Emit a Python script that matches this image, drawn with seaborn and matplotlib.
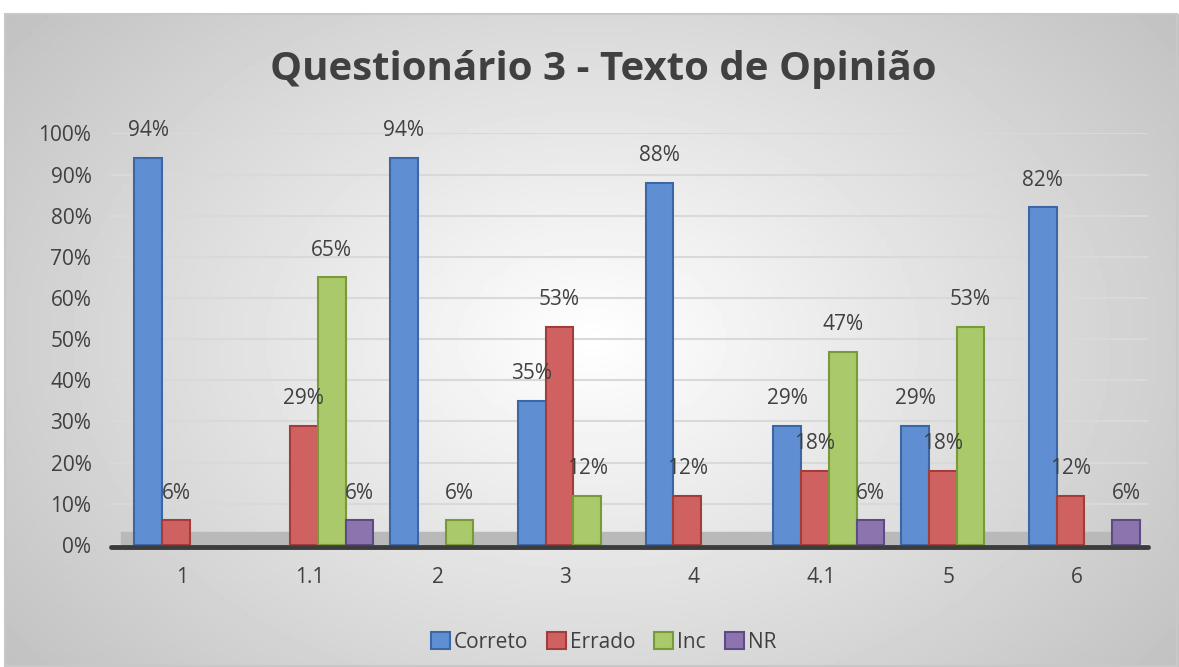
import seaborn as sns
import matplotlib.pyplot as plt
import matplotlib.transforms as mtransforms
import numpy as np
import pandas as pd

categorias = ["1", "1.1", "2", "3", "4", "4.1", "5", "6"]
correto = [94, 0, 94, 35, 88, 29, 29, 82]
errado = [6, 29, 0, 53, 12, 18, 18, 12]
inc = [0, 65, 6, 12, 0, 47, 53, 0]
nr = [0, 6, 0, 0, 0, 6, 0, 6]
series = ["Correto", "Errado", "Inc", "NR"]

df = pd.DataFrame({"Questão": categorias, "Correto": correto, "Errado": errado,
                   "Inc": inc, "NR": nr})
df = df.melt(id_vars="Questão", var_name="Resposta", value_name="Pct")

cores = ["#5f8fd2", "#cf6160", "#a9c96b", "#8c74ae"]
bordas = ["#3a68a6", "#a33d3c", "#789a38", "#5e4a85"]

sns.set_style("white")
plt.rcParams["font.family"] = ["Open Sans", "DejaVu Sans"]

fig = plt.figure(figsize=(11.79, 6.67), dpi=100)

# fundo com gradiente (claro no centro, cinza nas bordas)
bg = fig.add_axes([0.004, 0, 0.996, 0.979], zorder=-10)
yy, xx = np.mgrid[-1:1:200j, -1:1:300j]
r = np.sqrt((xx * 0.95) ** 2 + (yy * 0.75) ** 2)
bg.imshow(1 - 0.2 * np.clip(r, 0, 1.3), cmap="gray", vmin=0, vmax=1,
          aspect="auto", extent=[0, 1, 0, 1])
bg.axis("off")
fig.patches.append(plt.Rectangle((0.004, 0.001), 0.994, 0.978, transform=fig.transFigure,
                                 fill=False, edgecolor="#c8c8c8", linewidth=1.5))

ax = fig.add_axes([0.094, 0.183, 0.88, 0.617])
ax.patch.set_alpha(0)
sns.barplot(data=df, x="Questão", y="Pct", hue="Resposta", hue_order=series,
            palette=cores, width=0.87, ax=ax, saturation=1, legend=True)

for cont, borda in zip(ax.containers, bordas):
    for barra, v in zip(cont, cont.datavalues):
        barra.set_edgecolor(borda)
        barra.set_linewidth(1.5)
        barra.set_zorder(3)
        if v == 0:
            barra.set_visible(False)
    labels = [f"{v:.0f}%" if v > 0 else "" for v in cont.datavalues]
    ax.bar_label(cont, labels=labels, padding=12, fontsize=15, color="#404040")

ax.set_ylim(0, 100)
ax.set_yticks(range(0, 101, 10))
ax.set_yticklabels([f"{v}%" for v in range(0, 101, 10)], fontsize=15, color="#404040")
ax.tick_params(axis="x", labelsize=15, labelcolor="#404040", pad=16, length=0)
ax.tick_params(axis="y", length=0, pad=14)
ax.yaxis.grid(True, color="#d9d9d9", linewidth=1.5)
ax.set_axisbelow(True)
ax.set_xlabel("")
ax.set_ylabel("")
ax.axhspan(0, 3.2, xmin=0.01, xmax=0.985, color="#b9b9b9", zorder=1)
ax.axhline(-0.4, color="#3c3c3c", linewidth=3.5, zorder=5, clip_on=False)
sns.despine(ax=ax, left=True, bottom=True)
ax.set_xlim(-0.62, 7.5)

# rótulos do eixo x um pouco à esquerda, como no original
desloc = mtransforms.ScaledTranslation(-8 / 100, 0, fig.dpi_scale_trans)
for t in ax.get_xticklabels():
    t.set_transform(t.get_transform() + desloc)

leg = ax.legend(loc="upper center", bbox_to_anchor=(0.475, -0.165), ncol=4, frameon=False,
                fontsize=15, handlelength=0.9, handleheight=0.9, handletextpad=0.2,
                columnspacing=0.9, labelcolor="#404040")
for h, borda in zip(leg.legend_handles, bordas):
    h.set_edgecolor(borda)
    h.set_linewidth(1.5)

fig.text(0.512, 0.896, "Questionário 3 - Texto de Opinião", ha="center", va="center",
         fontsize=29, fontweight="bold", color="#404040")

fig.savefig("out.png", dpi=100)
